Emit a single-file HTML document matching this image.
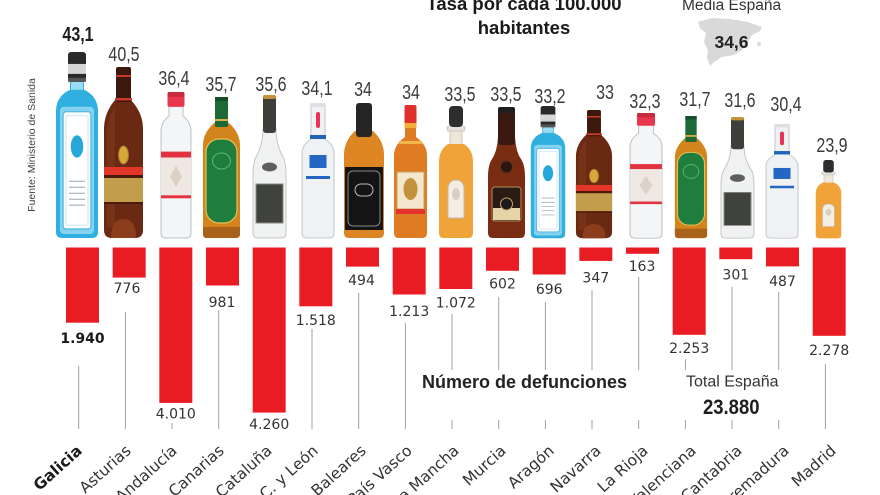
<!DOCTYPE html>
<html><head><meta charset="utf-8">
<style>
html,body{margin:0;padding:0;background:#fff;width:880px;height:495px;overflow:hidden}
svg{display:block}
</style></head>
<body>
<svg width="880" height="495" viewBox="0 0 880 495" xmlns="http://www.w3.org/2000/svg" overflow="hidden">
<defs>
 <clipPath id="frame"><rect x="0" y="0" width="880" height="495"/></clipPath>
 <symbol id="gin" viewBox="0 0 44 188" preserveAspectRatio="none">
  <path d="M15 30 L29 30 L29 38 Q42 44 43 58 L43 181 Q43 187 37 187 L7 187 Q1 187 1 181 L1 58 Q2 44 15 38 Z" fill="#2fb0e0"/>
  <path d="M16 30 L28 30 L28 38 L16 38 Z" fill="#9adcf2"/>
  <rect x="5" y="55" width="34" height="128" rx="4" fill="#86d3ef"/>
  <rect x="8" y="60" width="28" height="118" rx="3" fill="#fff" stroke="#5dbde4" stroke-width="1.5"/>
  <rect x="11" y="64" width="22" height="110" rx="2" fill="none" stroke="#c9e6f2" stroke-width="1"/>
  <ellipse cx="22" cy="95" rx="7" ry="12" fill="#27a6da" stroke="#fff" stroke-width="1.5"/>
  <path d="M14 130H30M14 136H30M14 142H30M14 148H30M14 154H30" stroke="#9aa5aa" stroke-width="1"/>
  <rect x="13" y="0" width="18" height="30" rx="3" fill="#2a2a2a"/>
  <rect x="13" y="12" width="18" height="10" fill="#d6d6d6"/>
  <rect x="13" y="26" width="18" height="4" fill="#555"/>
 </symbol>
 <symbol id="rum" viewBox="0 0 41 172" preserveAspectRatio="none">
  <path d="M12 33 L28 33 Q40 46 40 62 L40 163 Q40 171 32 171 L9 171 Q1 171 1 163 L1 62 Q1 46 12 33 Z" fill="#6a2912"/>
  <path d="M4 64 Q5 50 12 40 L12 160 L4 160 Z" fill="#874020" opacity=".45"/>
  <path d="M13 2 Q13 0 15 0 L26 0 Q28 0 28 2 L28 35 L13 35 Z" fill="#3b170c"/>
  <rect x="13" y="8" width="15" height="2" fill="#c83a28"/>
  <rect x="12" y="31" width="17" height="2.5" fill="#c83a28"/>
  <ellipse cx="20.5" cy="88" rx="5" ry="9" fill="#d6a838" stroke="#a8722a"/>
  <rect x="1" y="100" width="39" height="8" fill="#e23628"/>
  <rect x="1" y="108" width="39" height="3" fill="#4a1a0a"/>
  <rect x="1" y="111" width="39" height="24" fill="#c29d4c"/>
  <rect x="1" y="135" width="39" height="2" fill="#4a1a0a"/>
  <path d="M8 171 Q8 152 20.5 152 Q33 152 33 171 Z" fill="#8b3d1c"/>
 </symbol>
 <symbol id="clear" viewBox="0 0 32 148" preserveAspectRatio="none">
  <path d="M9 14 L23 14 L23 24 Q31 30 31 40 L31 142 Q31 147 26 147 L6 147 Q1 147 1 142 L1 40 Q1 30 9 24 Z" fill="#f4f5f6" stroke="#bcc0c4" stroke-width="1"/>
  <rect x="1" y="60" width="30" height="6" fill="#e2323f"/>
  <rect x="1" y="66" width="30" height="38" fill="#efe8e2"/>
  <polygon points="16,74 22,85 16,96 10,85" fill="#dcd1c6"/>
  <rect x="1" y="104" width="30" height="3" fill="#e2323f"/>
  <rect x="7.5" y="0" width="17" height="15" rx="2" fill="#e8364d"/>
  <rect x="7.5" y="0" width="17" height="5" rx="2" fill="#c92a3d"/>
 </symbol>
 <symbol id="whisky" viewBox="0 0 39 142" preserveAspectRatio="none">
  <path d="M12 26 L27 26 Q38 36 38 48 L38 137 Q38 141 34 141 L5 141 Q1 141 1 137 L1 48 Q1 36 12 26 Z" fill="#d4841c"/>
  <path d="M1 130 L38 130 L38 137 Q38 141 34 141 L5 141 Q1 141 1 137 Z" fill="#a8621a"/>
  <rect x="13" y="0" width="13" height="30" rx="1" fill="#1d6a36"/>
  <rect x="13" y="0" width="13" height="4" fill="#14502a"/>
  <rect x="13" y="22" width="13" height="2" fill="#d9b04a"/>
  <rect x="4" y="42" width="31" height="84" rx="13" fill="#1f7e3e" stroke="#e3c058" stroke-width="1.2"/>
  <ellipse cx="19.5" cy="64" rx="9" ry="8" fill="none" stroke="#5fb86f" stroke-width="1"/>
 </symbol>
 <symbol id="cognac" viewBox="0 0 35 144" preserveAspectRatio="none">
  <path d="M11 34 Q11 50 3 64 Q1 70 1 80 L1 138 Q1 143 6 143 L29 143 Q34 143 34 138 L34 80 Q34 70 32 64 Q24 50 24 34 Z" fill="#f0f1f1" stroke="#c2c5c7" stroke-width="1"/>
  <rect x="11" y="0" width="13" height="38" rx="3" fill="#3d3f3b"/>
  <rect x="11" y="0" width="13" height="4" rx="2" fill="#c6913a"/>
  <ellipse cx="17.5" cy="72" rx="7.5" ry="4.5" fill="#5e5f5c"/>
  <rect x="4" y="89" width="27" height="39" fill="#40433d" stroke="#8a8a80" stroke-width="1"/>
 </symbol>
 <symbol id="vodka" viewBox="0 0 34 136" preserveAspectRatio="none">
  <path d="M10 0 L24 0 L24 36 Q33 42 33 50 L33 130 Q33 135 28 135 L6 135 Q1 135 1 130 L1 50 Q1 42 10 36 Z" fill="#eff1f3" stroke="#c3c7cb" stroke-width="1"/>
  <rect x="10" y="0" width="14" height="4" fill="#dde1e4"/>
  <rect x="15" y="9" width="4" height="16" rx="2" fill="#e8345a"/>
  <rect x="9" y="32" width="16" height="4" fill="#1f64b8"/>
  <rect x="8.5" y="52" width="17" height="13" fill="#2367c2"/>
  <rect x="5" y="73" width="24" height="3" fill="#2367c2"/>
 </symbol>
 <symbol id="jack" viewBox="0 0 42 136" preserveAspectRatio="none">
  <path d="M12 28 L30 28 Q41 38 41 52 L41 130 Q41 135 36 135 L6 135 Q1 135 1 130 L1 52 Q1 38 12 28 Z" fill="#dd8522"/>
  <rect x="13" y="0" width="16" height="34" rx="3" fill="#252525"/>
  <rect x="2" y="64" width="38" height="63" fill="#141414"/>
  <rect x="5" y="68" width="32" height="55" rx="5" fill="none" stroke="#888" stroke-width="1"/>
  <rect x="12" y="81" width="18" height="12" rx="6" fill="none" stroke="#bbb" stroke-width="1"/>
 </symbol>
 <symbol id="brandy" viewBox="0 0 35 134" preserveAspectRatio="none">
  <path d="M12 20 L23 20 L23 32 Q34 40 34 50 L34 128 Q34 133 29 133 L6 133 Q1 133 1 128 L1 50 Q1 40 12 32 Z" fill="#df7b22"/>
  <rect x="6" y="36" width="23" height="3" fill="#f3b64a"/>
  <rect x="11.5" y="0" width="12" height="19" rx="2" fill="#e0302e"/>
  <rect x="11.5" y="18" width="12" height="5" fill="#f2ae3a"/>
  <rect x="4" y="67" width="27" height="37" fill="#f4e7d0" stroke="#c9a35a" stroke-width="1"/>
  <ellipse cx="17.5" cy="84" rx="7" ry="11" fill="#c4913d"/>
  <rect x="3" y="104" width="29" height="5" fill="#e4332f"/>
 </symbol>
 <symbol id="tequila" viewBox="0 0 36 133" preserveAspectRatio="none">
  <rect x="12" y="22" width="12" height="20" fill="#efe6da" stroke="#cfc6ba" stroke-width="1"/>
  <path d="M10 38 L26 38 Q35 44 35 56 L35 127 Q35 132 30 132 L6 132 Q1 132 1 127 L1 56 Q1 44 10 38 Z" fill="#f0a338"/>
  <rect x="9" y="20" width="18" height="5" rx="2" fill="#e7e2dc" stroke="#bbb" stroke-width=".8"/>
  <rect x="11" y="0" width="14" height="21" rx="4" fill="#2d2d2d"/>
  <path d="M10 112 L10 84 Q10 74 18 74 Q26 74 26 84 L26 112 Z" fill="#f4ede3" stroke="#c5b9aa" stroke-width="1"/>
  <ellipse cx="18" cy="88" rx="4" ry="6" fill="#d9d0c5"/>
 </symbol>
 <symbol id="kahlua" viewBox="0 0 39 132" preserveAspectRatio="none">
  <path d="M11 30 Q10 45 5 52 Q1 58 1 70 L1 126 Q1 131 6 131 L33 131 Q38 131 38 126 L38 70 Q38 58 34 52 Q29 45 28 30 Z" fill="#7a2c13"/>
  <rect x="11" y="0" width="17" height="38" rx="3" fill="#3a1a10"/>
  <rect x="11" y="0" width="17" height="6" rx="2" fill="#1f1f1f"/>
  <circle cx="19.5" cy="60" r="6" fill="#2a1510" stroke="#5a3020"/>
  <rect x="5" y="80" width="29" height="34" rx="3" fill="#2a1c15" stroke="#b08d5e" stroke-width="1"/>
  <rect x="6" y="101" width="27" height="12" fill="#e6d3a8"/>
  <circle cx="19.5" cy="97" r="6" fill="#1a1a1a" stroke="#c9a468" stroke-width="1"/>
 </symbol>
</defs>

<g clip-path="url(#frame)">
<!-- Title -->
<g font-family="Liberation Sans, Arial, sans-serif" fill="#1a1a1a" font-weight="bold" font-size="18.5" text-anchor="middle">
 <text x="524" y="10">Tasa por cada 100.000</text>
 <text x="524" y="34">habitantes</text>
</g>
<text x="682" y="10" font-family="Liberation Sans, Arial, sans-serif" font-size="15.5" fill="#333">Media España</text>
<path d="M698,22 L712,18 L730,19 L748,22 L762,27 L760,31 L752,35 L748,42 L742,50 L734,55 L722,57 L714,62 L710,66 L707,58 L708,50 L704,42 L706,33 L700,28 Z" fill="#d9d9d9"/>
<circle cx="759" cy="44" r="2" fill="#d9d9d9"/>
<text x="731.5" y="48" text-anchor="middle" font-family="Liberation Sans, Arial, sans-serif" font-weight="bold" font-size="17.5" fill="#222">34,6</text>

<!-- Source -->
<text transform="translate(35,145) rotate(-90)" text-anchor="middle" font-family="Liberation Sans, Arial, sans-serif" font-size="10.5" fill="#444">Fuente: Ministerio de Sanida</text>

<!-- Bottles -->
<use href="#gin" x="55" y="52" width="44" height="187"/>
<use href="#rum" x="103" y="67" width="41" height="172"/>
<use href="#clear" x="160" y="92" width="32" height="147"/>
<use href="#whisky" x="202" y="97" width="39" height="142"/>
<use href="#cognac" x="252" y="95" width="35" height="144"/>
<use href="#vodka" x="301" y="103" width="34" height="136"/>
<use href="#jack" x="343" y="103" width="42" height="136"/>
<use href="#brandy" x="393" y="105" width="35" height="134"/>
<use href="#tequila" x="438" y="106" width="36" height="133"/>
<use href="#kahlua" x="487" y="107" width="39" height="132"/>
<use href="#gin" x="530" y="106" width="36" height="133"/>
<use href="#rum" x="575" y="110" width="38" height="129"/>
<use href="#clear" x="629" y="113" width="34" height="126"/>
<use href="#whisky" x="674" y="116" width="34" height="123"/>
<use href="#cognac" x="720" y="117" width="35" height="122"/>
<use href="#vodka" x="765" y="124" width="34" height="115"/>
<use href="#tequila" x="815" y="160" width="27" height="79"/>

<!-- Top values -->
<g font-family="Liberation Sans, Arial, sans-serif" font-size="20" fill="#3a3a3a" text-anchor="middle">
 <text transform="translate(78,41) scale(0.8,1)" font-weight="bold" fill="#1e1e1e">43,1</text>
 <text transform="translate(124,61) scale(0.8,1)">40,5</text>
 <text transform="translate(174,85) scale(0.8,1)">36,4</text>
 <text transform="translate(221,91) scale(0.8,1)">35,7</text>
 <text transform="translate(271,91) scale(0.8,1)">35,6</text>
 <text transform="translate(317,95) scale(0.8,1)">34,1</text>
 <text transform="translate(363,96) scale(0.8,1)">34</text>
 <text transform="translate(411,99) scale(0.8,1)">34</text>
 <text transform="translate(460,101) scale(0.8,1)">33,5</text>
 <text transform="translate(506,101) scale(0.8,1)">33,5</text>
 <text transform="translate(550,103) scale(0.8,1)">33,2</text>
 <text transform="translate(605,99) scale(0.8,1)">33</text>
 <text transform="translate(645,108) scale(0.8,1)">32,3</text>
 <text transform="translate(695,106) scale(0.8,1)">31,7</text>
 <text transform="translate(740,107) scale(0.8,1)">31,6</text>
 <text transform="translate(786,111) scale(0.8,1)">30,4</text>
 <text transform="translate(832,152) scale(0.8,1)">23,9</text>
</g>

<!-- Bars -->
<g fill="#e91c24">
 <rect x="66" y="247.5" width="33" height="75.2"/>
 <rect x="112.67" y="247.5" width="33" height="30.1"/>
 <rect x="159.33" y="247.5" width="33" height="155.4"/>
 <rect x="206" y="247.5" width="33" height="38"/>
 <rect x="252.67" y="247.5" width="33" height="165.1"/>
 <rect x="299.33" y="247.5" width="33" height="58.8"/>
 <rect x="346" y="247.5" width="33" height="19.1"/>
 <rect x="392.67" y="247.5" width="33" height="47"/>
 <rect x="439.33" y="247.5" width="33" height="41.5"/>
 <rect x="486" y="247.5" width="33" height="23.3"/>
 <rect x="532.67" y="247.5" width="33" height="27"/>
 <rect x="579.33" y="247.5" width="33" height="13.4"/>
 <rect x="626" y="247.5" width="33" height="6.3"/>
 <rect x="672.67" y="247.5" width="33" height="87.3"/>
 <rect x="719.33" y="247.5" width="33" height="11.7"/>
 <rect x="766" y="247.5" width="33" height="18.9"/>
 <rect x="812.67" y="247.5" width="33" height="88.3"/>
</g>

<!-- Leader lines -->
<g stroke="#a0a0a0" stroke-width="1">
 <line x1="78.7" y1="366" x2="78.7" y2="429"/>
 <line x1="125.4" y1="312" x2="125.4" y2="429"/>
 <line x1="172" y1="423" x2="172" y2="429"/>
 <line x1="218.7" y1="310" x2="218.7" y2="429"/>
 <line x1="312" y1="329" x2="312" y2="429"/>
 <line x1="358.7" y1="293" x2="358.7" y2="429"/>
 <line x1="405.4" y1="323" x2="405.4" y2="429"/>
 <line x1="452" y1="314" x2="452" y2="370"/><line x1="452" y1="420" x2="452" y2="429"/>
 <line x1="498.7" y1="297" x2="498.7" y2="370"/><line x1="498.7" y1="420" x2="498.7" y2="429"/>
 <line x1="545.4" y1="302" x2="545.4" y2="370"/><line x1="545.4" y1="420" x2="545.4" y2="429"/>
 <line x1="592" y1="290" x2="592" y2="370"/><line x1="592" y1="420" x2="592" y2="429"/>
 <line x1="638.7" y1="277" x2="638.7" y2="370"/><line x1="638.7" y1="420" x2="638.7" y2="429"/>
 <line x1="685.4" y1="359" x2="685.4" y2="370"/><line x1="685.4" y1="420" x2="685.4" y2="429"/>
 <line x1="732" y1="287" x2="732" y2="370"/><line x1="732" y1="420" x2="732" y2="429"/>
 <line x1="778.7" y1="292" x2="778.7" y2="370"/><line x1="778.7" y1="420" x2="778.7" y2="429"/>
 <line x1="825.4" y1="364" x2="825.4" y2="429"/>
</g>

<!-- Death values -->
<g font-family="DejaVu Sans, Verdana, sans-serif" font-size="14" fill="#333" text-anchor="middle">
 <text x="82.5" y="343" font-weight="bold" fill="#1a1a1a">1.940</text>
 <text x="127" y="293">776</text>
 <text x="175.8" y="418.5">4.010</text>
 <text x="222" y="307">981</text>
 <text x="269.2" y="429">4.260</text>
 <text x="315.8" y="325">1.518</text>
 <text x="361.5" y="285">494</text>
 <text x="409.2" y="316">1.213</text>
 <text x="455.8" y="307.5">1.072</text>
 <text x="502.5" y="288.5">602</text>
 <text x="549.2" y="294">696</text>
 <text x="595.8" y="282.5">347</text>
 <text x="642" y="271">163</text>
 <text x="689.2" y="353">2.253</text>
 <text x="735.8" y="279.5">301</text>
 <text x="782.5" y="286">487</text>
 <text x="829.2" y="355">2.278</text>
</g>

<!-- Middle labels -->
<text x="422" y="388" font-family="Liberation Sans, Arial, sans-serif" font-weight="bold" font-size="18" fill="#222">Número de defunciones</text>
<text x="686" y="386.5" font-family="Liberation Sans, Arial, sans-serif" font-size="16" fill="#333">Total España</text>
<text transform="translate(703,414) scale(0.88,1)" font-family="Liberation Sans, Arial, sans-serif" font-weight="bold" font-size="21" fill="#1e1e1e">23.880</text>

<!-- Region labels -->
<g font-family="DejaVu Sans, Verdana, sans-serif" font-size="15.5" fill="#333" text-anchor="end">
 <text transform="translate(83,452) rotate(-42)" font-weight="bold" fill="#1a1a1a">Galicia</text>
 <text transform="translate(132,452) rotate(-42)">Asturias</text>
 <text transform="translate(178,452) rotate(-42)">Andalucía</text>
 <text transform="translate(225,452) rotate(-42)">Canarias</text>
 <text transform="translate(273,452) rotate(-42)">Cataluña</text>
 <text transform="translate(319,452) rotate(-42)">C. y León</text>
 <text transform="translate(367,452) rotate(-42)">Baleares</text>
 <text transform="translate(413,452) rotate(-42)">País Vasco</text>
 <text transform="translate(460,452) rotate(-42)">C.-La Mancha</text>
 <text transform="translate(507,452) rotate(-42)">Murcia</text>
 <text transform="translate(555,452) rotate(-42)">Aragón</text>
 <text transform="translate(602,452) rotate(-42)">Navarra</text>
 <text transform="translate(649,452) rotate(-42)">La Rioja</text>
 <text transform="translate(697,452) rotate(-42)">C. Valenciana</text>
 <text transform="translate(743,452) rotate(-42)">Cantabria</text>
 <text transform="translate(790,452) rotate(-42)">Extremadura</text>
 <text transform="translate(837,452) rotate(-42)">Madrid</text>
</g>
</g>
</svg>
</body></html>
